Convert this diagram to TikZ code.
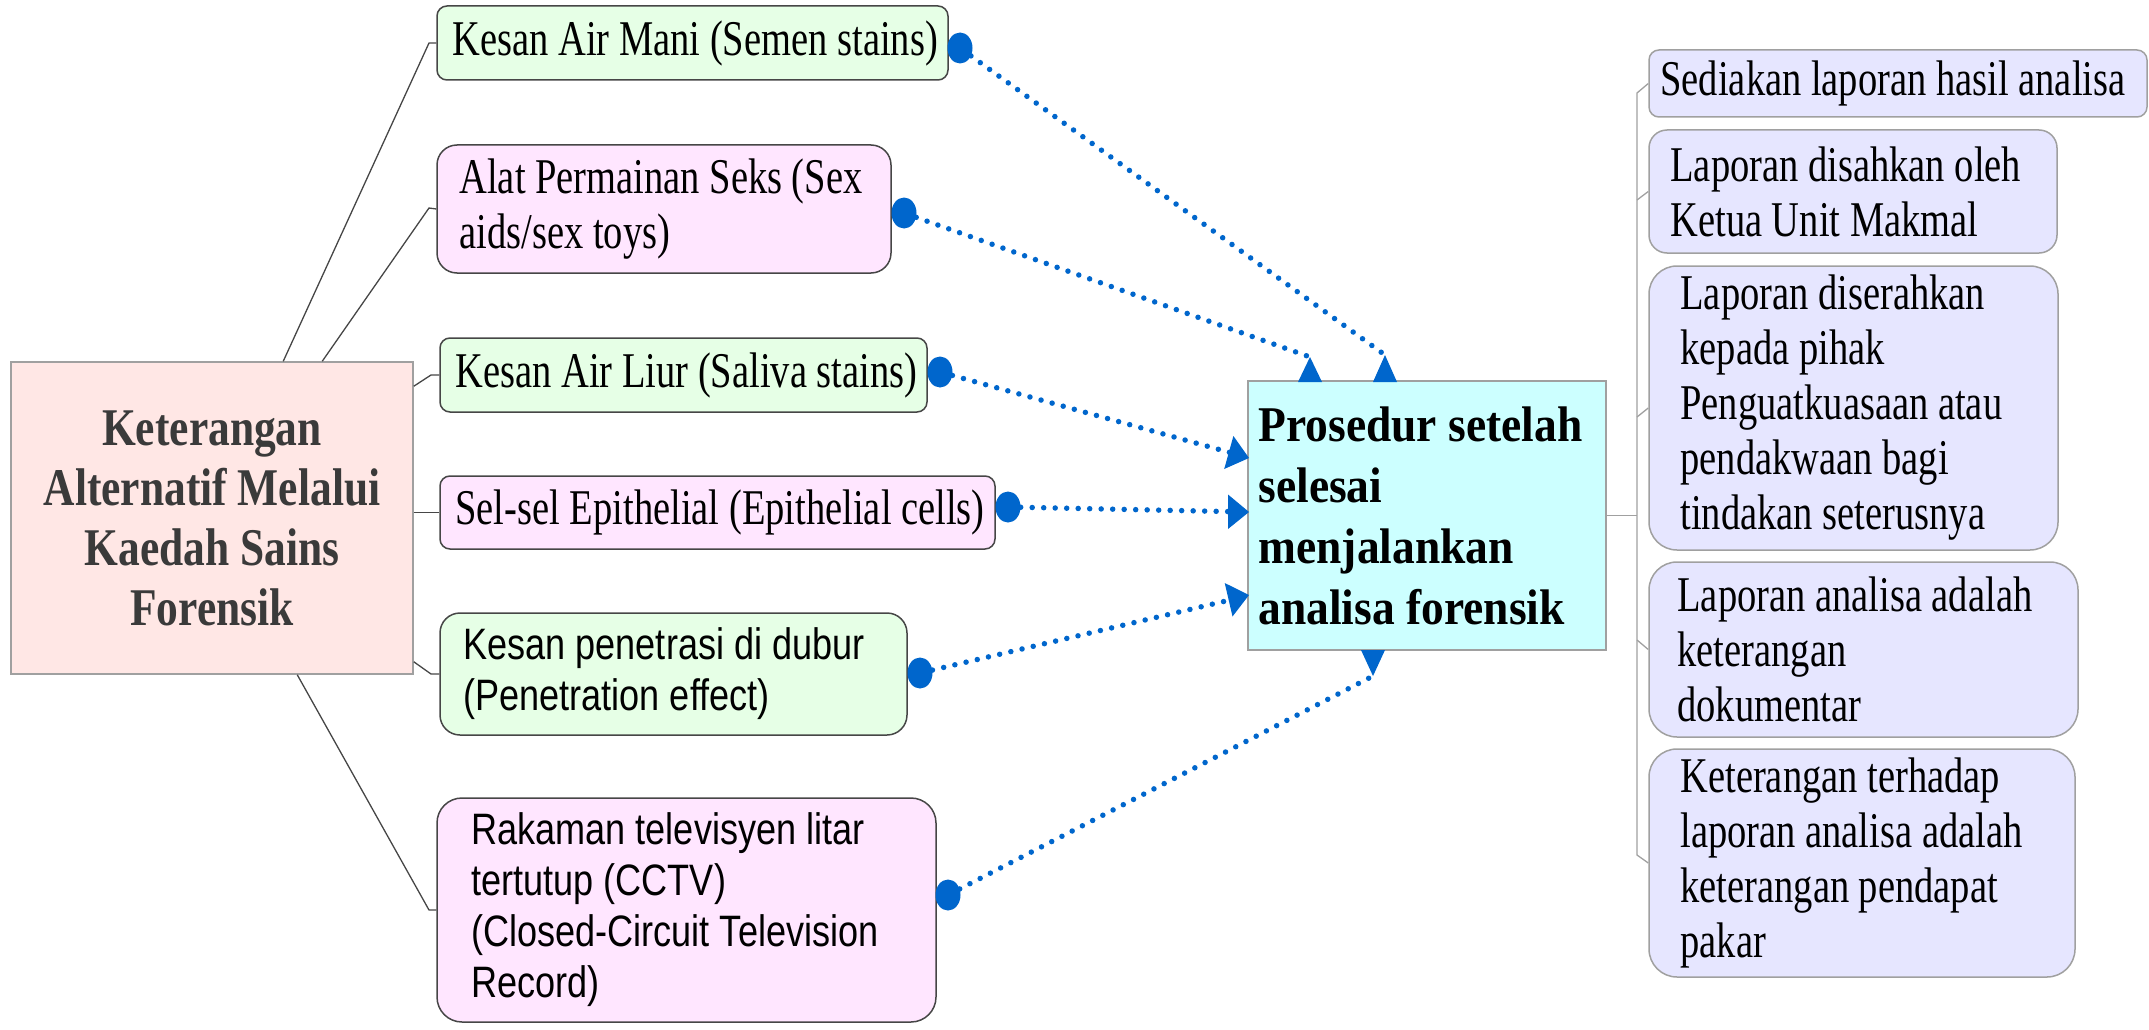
\documentclass[tikz,border=0pt]{standalone}
\usepackage{fontspec}
\setmainfont{Liberation Serif}
\newfontfamily\fsreg{Liberation Serif}[FakeStretch=0.77]
\newfontfamily\fsbl{Liberation Serif}[FakeStretch=0.82]
\newfontfamily\fsbc{Liberation Serif}[FakeStretch=0.91]
\newfontfamily\fssans{Liberation Sans}[FakeStretch=0.82]
\usetikzlibrary{shapes.geometric,calc}
\definecolor{dotblue}{RGB}{0,102,204}
\definecolor{fgreen}{RGB}{230,255,230}
\definecolor{fpink}{RGB}{255,230,255}
\definecolor{fsalmon}{RGB}{255,231,229}
\definecolor{fcyan}{RGB}{204,255,255}
\definecolor{flav}{RGB}{230,230,255}
\definecolor{bdark}{RGB}{70,70,70}
\definecolor{blight}{RGB}{160,160,160}
\definecolor{tgray}{RGB}{58,58,58}
\begin{document}
\begin{tikzpicture}[x=1pt,y=-1pt,
  midbox/.style={rectangle, draw=bdark, line width=1.5pt, inner sep=0pt},
  rbox/.style={rectangle, draw=blight, line width=1.5pt, inner sep=0pt, fill=flav},
  sqbox/.style={rectangle, draw=blight, line width=1.5pt, inner sep=0pt},
  txt/.style={inner sep=0pt, align=left, anchor=west, text=black, font=\fsreg\fontsize{50}{55}\selectfont},
  stxt/.style={inner sep=0pt, align=left, anchor=west, text=black, font=\fssans\fontsize{44}{51}\selectfont},
  lconn/.style={draw=bdark, line width=1.3pt},
  rconn/.style={draw=blight, line width=1.3pt},
  dotl/.style={draw=dotblue, line width=5.5pt, line cap=round, dash pattern=on 0pt off 11.5pt},
  dotc/.style={ellipse, fill=dotblue, minimum width=25pt, minimum height=31pt, inner sep=0pt},
  tipfill/.style={fill=dotblue},
]
\useasboundingbox (0,0) rectangle (2149,1030);

% ---- boxes ----
\node[sqbox, fill=fsalmon, minimum width=402pt, minimum height=312pt] (L) at (212,518) {};
\node[midbox, fill=fgreen, rounded corners=10pt, minimum width=511pt, minimum height=74pt] (A) at (692.5,43) {};
\node[midbox, fill=fpink, rounded corners=20pt, minimum width=454pt, minimum height=128pt] (B) at (664,209) {};
\node[midbox, fill=fgreen, rounded corners=10pt, minimum width=487pt, minimum height=74pt] (C) at (683.5,375) {};
\node[midbox, fill=fpink, rounded corners=10pt, minimum width=555pt, minimum height=73pt] (D) at (717.5,512.5) {};
\node[midbox, fill=fgreen, rounded corners=20pt, minimum width=467pt, minimum height=122pt] (E) at (673.5,674) {};
\node[midbox, fill=fpink, rounded corners=25pt, minimum width=499pt, minimum height=224pt] (F) at (686.5,910) {};
\node[sqbox, fill=fcyan, minimum width=358pt, minimum height=269pt] (Ctr) at (1427,515.5) {};
\node[rbox, rounded corners=10pt, minimum width=498pt, minimum height=67pt] (R1) at (1898,83.5) {};
\node[rbox, rounded corners=18pt, minimum width=408pt, minimum height=123pt] (R2) at (1853,191.5) {};
\node[rbox, rounded corners=28pt, minimum width=409pt, minimum height=284pt] (R3) at (1853.5,408) {};
\node[rbox, rounded corners=28pt, minimum width=429pt, minimum height=175pt] (R4) at (1863.5,649.5) {};
\node[rbox, rounded corners=28pt, minimum width=426pt, minimum height=228pt] (R5) at (1862,863) {};

% ---- texts ----
\node[inner sep=0pt, align=center, text=tgray, font=\fsbl\bfseries\fontsize{53}{60}\selectfont] (Lt) at (L.center) {Keterangan\\Alternatif Melalui\\Kaedah Sains\\Forensik};
\node[txt] (At) at ($(A.west)+(16,0)$) {Kesan Air Mani (Semen stains)};
\node[txt] (Bt) at ($(B.west)+(23,0)$) {Alat Permainan Seks (Sex\\aids/sex toys)};
\node[txt] (Ct) at ($(C.west)+(16,0)$) {Kesan Air Liur (Saliva stains)};
\node[txt] (Dt) at ($(D.west)+(16,0)$) {Sel-sel Epithelial (Epithelial cells)};
\node[stxt] (Et) at ($(E.west)+(24,0)$) {Kesan penetrasi di dubur\\(Penetration effect)};
\node[stxt] (Ft) at ($(F.west)+(35,0)$) {Rakaman televisyen litar\\tertutup (CCTV)\\(Closed-Circuit Television\\Record)};
\node[inner sep=0pt, align=left, anchor=west, text=black, font=\fsbc\bfseries\fontsize{50}{61}\selectfont] (Ctrt) at ($(Ctr.west)+(11,0)$) {Prosedur setelah\\selesai\\menjalankan\\analisa forensik};
\node[txt] (R1t) at ($(R1.west)+(12,0)$) {Sediakan laporan hasil analisa};
\node[txt] (R2t) at ($(R2.west)+(22,0)$) {Laporan disahkan oleh\\Ketua Unit Makmal};
\node[txt] (R3t) at ($(R3.west)+(32,0)$) {Laporan diserahkan\\kepada pihak\\Penguatkuasaan atau\\pendakwaan bagi\\tindakan seterusnya};
\node[txt] (R4t) at ($(R4.west)+(29,0)$) {Laporan analisa adalah\\keterangan\\dokumentar};
\node[txt] (R5t) at ($(R5.west)+(32,0)$) {Keterangan terhadap\\laporan analisa adalah\\keterangan pendapat\\pakar};

% ---- left connectors ----
\draw[lconn] ($(L.north west)+(273,0)$) -- (429,43) -- (A.west);
\draw[lconn] ($(L.north west)+(312,0)$) -- (429,208) -- (B.west);
\draw[lconn] ($(L.north east)+(0,25)$) -- (431,375) -- (C.west);
\draw[lconn] (L.east |- D.west) -- (D.west);
\draw[lconn] ($(L.south east)+(0,-13)$) -- (431,674) -- (E.west);
\draw[lconn] ($(L.south west)+(287,0)$) -- (429,910) -- (F.west);

% ---- right connectors ----
\coordinate (vm) at (1637,515.5);
\draw[rconn] (Ctr.east) -- (vm);
\draw[rconn] (R1.west) -- (1637,93) -- (1637,855) -- (R5.west);
\draw[rconn] (1637,200) -- (R2.west);
\draw[rconn] (1637,417) -- (R3.west);
\draw[rconn] (1637,640) -- (R4.west);

% ---- dotted relations ----
\node[dotc] (cA) at (960,48) {};
\node[dotc] (cB) at (904,213) {};
\node[dotc] (cC) at (940,372) {};
\node[dotc] (cD) at (1008,507) {};
\node[dotc] (cE) at (920,673) {};
\node[dotc] (cF) at (948,895) {};
\coordinate (tA) at (1385,355);
\coordinate (tB) at (1310,357);
\coordinate (tC) at (1230,452.5);
\coordinate (tD) at (1230,511.6);
\coordinate (tE) at (1230,600);
\coordinate (tF) at (1373,676);
\draw[dotl] (cA) -- (tA);
\draw[dotl] (cB) -- (tB);
\draw[dotl] (cC) -- (tC);
\draw[dotl] (cD) -- (tD);
\draw[dotl] (cE) -- (tE);
\draw[dotl] (cF) -- (tF);
% arrowheads
\fill[tipfill] (1298,382) -- (1322,382) -- (tB) -- cycle;
\fill[tipfill] (1373,382) -- (1397,382) -- (tA) -- cycle;
\fill[tipfill] (1361,650) -- (1385,650) -- (tF) -- cycle;
\fill[tipfill] (1224.2,469) -- (1233.4,436) -- (1249,458) -- cycle;
\fill[tipfill] (1228,494.5) -- (1228,529) -- (1249,512) -- cycle;
\fill[tipfill] (1224.7,583) -- (1232.5,616.5) -- (1249,595) -- cycle;
\end{tikzpicture}
\end{document}
